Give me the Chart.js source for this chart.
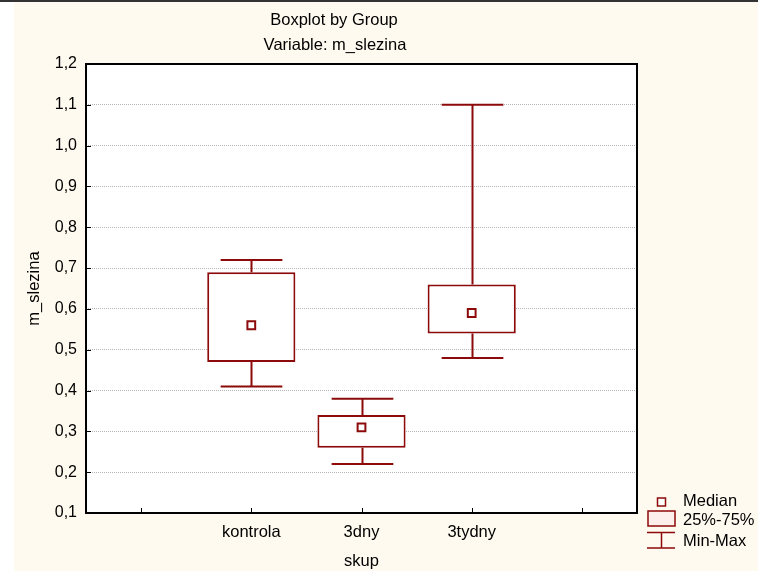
<!DOCTYPE html>
<html>
<head>
<meta charset="utf-8">
<script src="https://cdn.jsdelivr.net/npm/chart.js@4.4.1/dist/chart.umd.min.js"></script>
<style>
  html, body { margin: 0; padding: 0; background: #fffaef; }
  canvas { display: block; }
</style>
</head>
<body>
<canvas id="c" width="758" height="571"></canvas>
<script>
/* Boxplot by Group — m_slezina by skup (STATISTICA-style). */
const categories = ["", "kontrola", "3dny", "3tydny", ""];
const minVals    = [null, 0.41, 0.22, 0.48, null];
const q1Vals     = [null, 0.47, 0.26, 0.54, null];
const medianVals = [null, 0.56, 0.31, 0.59, null];
const q3Vals     = [null, 0.69, 0.34, 0.66, null];
const maxVals    = [null, 0.72, 0.38, 1.10, null];
const yTicks     = [0.1, 0.2, 0.3, 0.4, 0.5, 0.6, 0.7, 0.8, 0.9, 1.0, 1.1, 1.2];

const RED = "#8c0a0a";
const FONT = "Arial, 'Liberation Sans', sans-serif";
const comma = v => Number(v).toFixed(1).replace(".", ",");

// page backdrop, plot area, whiskers, frame, inward ticks, titles, legend
const decor = {
  id: "decor",
  beforeDraw(chart) {
    const { ctx, chartArea: a } = chart;
    ctx.save();
    ctx.fillStyle = "#fffaef"; ctx.fillRect(0, 0, chart.width, chart.height);
    ctx.fillStyle = "#ffffff"; ctx.fillRect(0, 0, 14, chart.height);
    ctx.fillStyle = "#333333"; ctx.fillRect(0, 0, chart.width, 2);
    ctx.fillStyle = "#ffffff"; ctx.fillRect(a.left, a.top, a.right - a.left, a.bottom - a.top);
    ctx.restore();
  },
  beforeDatasetsDraw(chart) {
    const { ctx, scales: { x, y } } = chart;
    const half = x.width / categories.length * 0.28;
    ctx.save();
    ctx.strokeStyle = RED; ctx.lineWidth = 2;
    categories.forEach((c, i) => {
      if (maxVals[i] == null) return;
      const px = Math.round(x.getPixelForValue(i)) + 0.5;
      const yMax = y.getPixelForValue(maxVals[i]), yMin = y.getPixelForValue(minVals[i]);
      ctx.beginPath();
      ctx.moveTo(px, yMax); ctx.lineTo(px, y.getPixelForValue(q3Vals[i]));
      ctx.moveTo(px, y.getPixelForValue(q1Vals[i])); ctx.lineTo(px, yMin);
      ctx.moveTo(px - half, yMax); ctx.lineTo(px + half, yMax);
      ctx.moveTo(px - half, yMin); ctx.lineTo(px + half, yMin);
      ctx.stroke();
    });
    ctx.restore();
  },
  afterDraw(chart) {
    const { ctx, chartArea: a, scales: { x, y } } = chart;
    ctx.save();
    // inward tick marks
    ctx.strokeStyle = "#000"; ctx.lineWidth = 1;
    ctx.beginPath();
    categories.forEach((c, i) => {
      const px = Math.round(x.getPixelForValue(i)) + 0.5;
      ctx.moveTo(px, a.bottom); ctx.lineTo(px, a.bottom - 5);
    });
    yTicks.forEach(v => {
      const py = Math.round(y.getPixelForValue(v)) + 0.5;
      ctx.moveTo(a.left, py); ctx.lineTo(a.left + 5, py);
    });
    ctx.stroke();
    // frame
    ctx.lineWidth = 2;
    ctx.strokeRect(a.left, a.top, a.right - a.left, a.bottom - a.top);
    // titles
    ctx.fillStyle = "#000";
    ctx.font = "16.5px " + FONT;
    ctx.textAlign = "center"; ctx.textBaseline = "middle";
    ctx.fillText("Boxplot by Group", 334, 20);
    ctx.fillText("Variable: m_slezina", 335, 45);
    // legend
    ctx.strokeStyle = RED; ctx.lineWidth = 1.5;
    ctx.fillStyle = "#fff";
    ctx.fillRect(657.5, 498, 8, 8); ctx.strokeRect(657.5, 498, 8, 8);
    ctx.fillStyle = "#fdf0ec";
    ctx.fillRect(648, 511, 27, 15); ctx.strokeRect(648, 511, 27, 15);
    ctx.beginPath();
    ctx.moveTo(647, 532.5); ctx.lineTo(675, 532.5);
    ctx.moveTo(661.5, 532.5); ctx.lineTo(661.5, 548);
    ctx.moveTo(647, 548); ctx.lineTo(675, 548);
    ctx.stroke();
    ctx.fillStyle = "#000";
    ctx.font = "16.5px " + FONT;
    ctx.textAlign = "left";
    ctx.fillText("Median", 683, 501);
    ctx.fillText("25%-75%", 683, 520);
    ctx.fillText("Min-Max", 683, 541);
    ctx.restore();
  },
};

new Chart(document.getElementById("c"), {
  type: "bar",
  data: {
    labels: categories,
    datasets: [
      { type: "bar", label: "25%-75%",
        data: categories.map((c, i) => q1Vals[i] == null ? null : [q1Vals[i], q3Vals[i]]),
        backgroundColor: "#ffffff", borderColor: RED, borderWidth: 2, borderSkipped: false,
        barPercentage: 0.8, categoryPercentage: 1.0, order: 2 },
      { type: "line", label: "Median", data: medianVals, showLine: false,
        pointStyle: "rect", pointRadius: 5.5, pointBorderWidth: 2,
        pointBackgroundColor: "#ffffff", pointBorderColor: RED, order: 1 },
    ],
  },
  options: {
    responsive: false, animation: false, devicePixelRatio: 1,
    layout: { padding: { left: 0, right: 121, top: 64, bottom: 0 } },
    plugins: { legend: { display: false }, tooltip: { enabled: false } },
    scales: {
      x: {
        afterFit: s => { s.height = 58; },
        grid: { display: false, drawTicks: false },
        border: { display: false },
        ticks: { color: "#000", font: { family: FONT, size: 16.5 }, padding: 10, maxRotation: 0 },
        title: { display: true, text: "skup", color: "#000", font: { family: FONT, size: 16.5 },
                 padding: { top: 0, bottom: 0 } },
      },
      y: {
        min: 0.1, max: 1.2,
        afterFit: s => { s.width = 86; },
        afterBuildTicks: s => { s.ticks = yTicks.map(v => ({ value: v })); },
        grid: { color: "#b4b4b4", lineWidth: 1, drawTicks: false },
        border: { display: false, dash: [1, 1] },
        ticks: { color: "#000", font: { family: FONT, size: 16 }, padding: 9,
                 callback: v => comma(v) },
        title: { display: true, text: "m_slezina", color: "#000", font: { family: FONT, size: 16.5 },
                 padding: { top: 25, bottom: 0 } },
      },
    },
  },
  plugins: [decor],
});
</script>
</body>
</html>
